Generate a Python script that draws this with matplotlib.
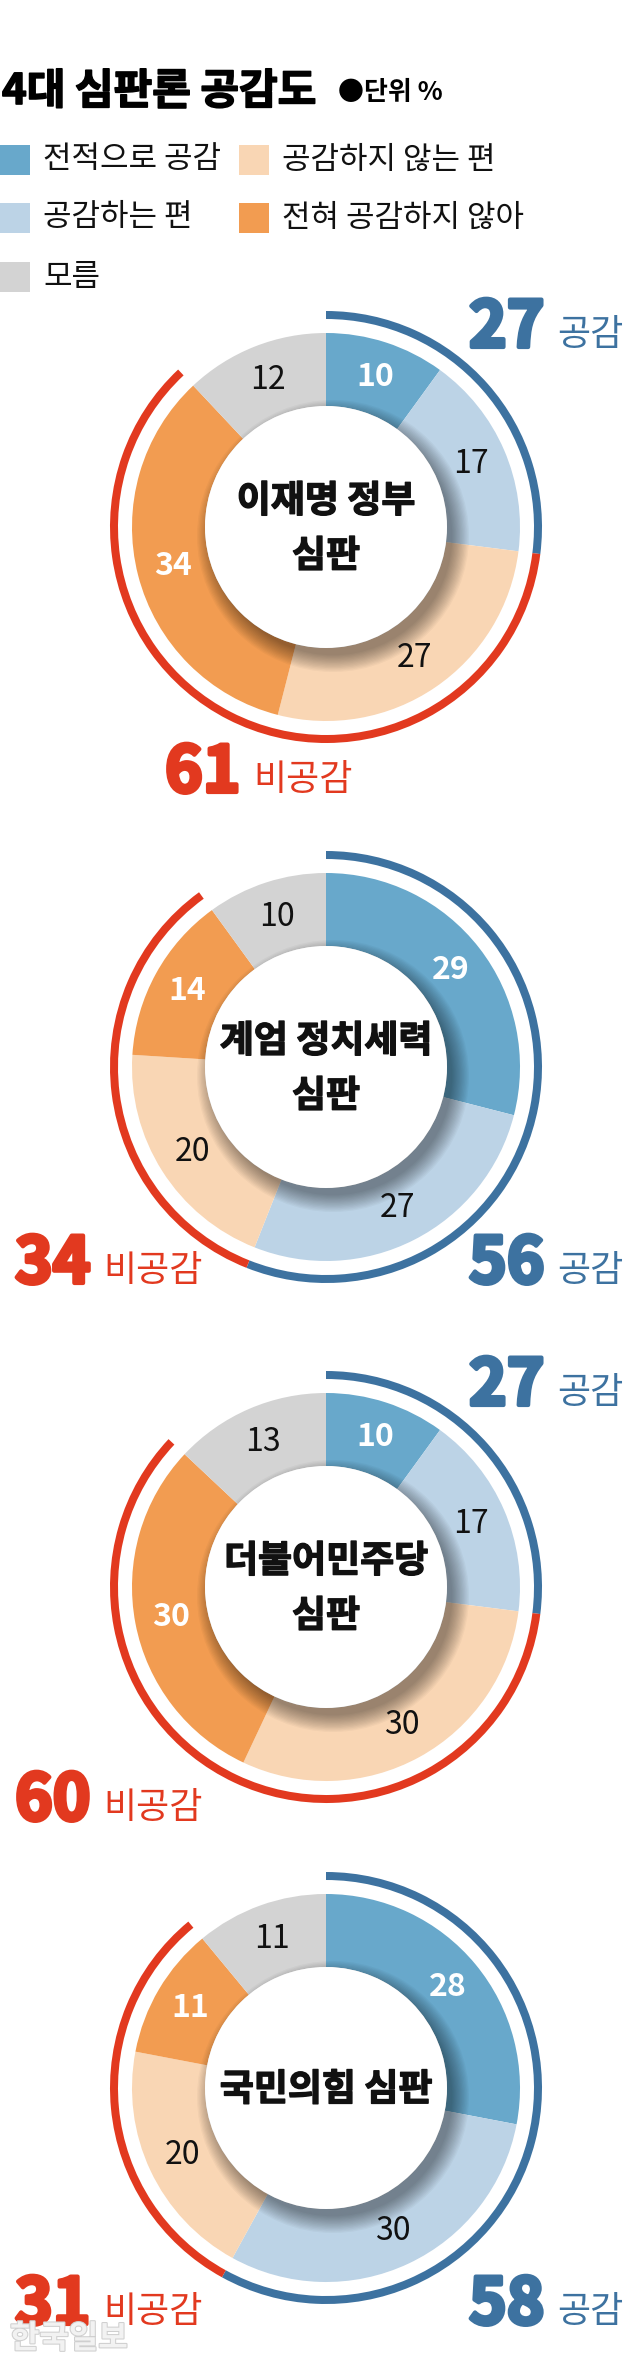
import numpy as np
import matplotlib.pyplot as plt
from matplotlib.patches import Wedge, Circle, Rectangle
import matplotlib.patheffects as pe

plt.rcParams['font.family'] = ['Noto Sans CJK KR', 'DejaVu Sans']

# categories in drawing order (clockwise from 12 o'clock)
categories = ['전적으로 공감', '공감하는 편', '공감하지 않는 편', '전혀 공감하지 않아', '모름']
seg_colors = ['#68a8cb', '#bcd3e6', '#f9d6b4', '#f29c51', '#d3d3d3']
num_colors = ['white', '#111111', '#111111', 'white', '#111111']

titles = ['이재명 정부\n심판', '계엄 정치세력\n심판', '더불어민주당\n심판', '국민의힘 심판']
lee_gov = [10, 17, 27, 34, 12]
martial_law = [29, 27, 20, 14, 10]
democratic = [10, 17, 30, 30, 13]
ppp = [28, 30, 20, 11, 11]
agree_total = [27, 56, 27, 58]
disagree_total = [61, 34, 60, 31]

AGREE = '#3d72a0'
DISAGREE = '#e2391f'

W, H = 623, 2364
fig = plt.figure(figsize=(W / 100, H / 100), dpi=100)
ax = fig.add_axes([0, 0, 1, 1])
ax.set_xlim(0, W)
ax.set_ylim(H, 0)
ax.axis('off')

def px(v):
    return v * 0.72

heavy = lambda w, c: [pe.withStroke(linewidth=w, foreground=c)]

# title
ax.text(2, 92, '4대 심판론 공감도', fontsize=px(42), fontweight='bold', va='center', ha='left',
        path_effects=heavy(1.2, 'black'))
ax.text(338, 92, '●단위 %', fontsize=px(26), fontweight='bold', va='center', ha='left')

# legend
leg_pos = [(0, 160), (0, 218), (239, 160), (239, 218), (0, 277)]
for (lx, ly), cat, c in zip(leg_pos, categories, seg_colors):
    ax.add_patch(Rectangle((lx, ly - 15), 30, 30, color=c, lw=0))
    ax.text(lx + 43, ly, cat, fontsize=px(31), va='center', ha='left', color='#111111')

cx = 326
centers = [527, 1067, 1587, 2088]
R_out, R_in = 194, 121
series = [lee_gov, martial_law, democratic, ppp]
# baseline offsets of the big numbers relative to the donut centre
agree_pos = [(468, -180), (468, 216), (468, -182), (468, 236)]
disagree_pos = [(164, 265), (14, 216), (14, 233), (14, 236)]


def ang(pct):
    # clockwise from top, y axis inverted
    return -90 + pct * 3.6


big_nums = []
for cy, vals, title, ag, dis, apos, dpos in zip(centers, series, titles, agree_total,
                                                 disagree_total, agree_pos, disagree_pos):
    cum = np.concatenate([[0], np.cumsum(vals)])
    for i, v in enumerate(vals):
        ax.add_patch(Wedge((cx, cy), R_out, ang(cum[i]), ang(cum[i + 1]),
                           width=R_out - R_in, color=seg_colors[i], lw=0))
    # soft shadow of the centre disc
    n = 14
    for k in range(n):
        r = R_in - 3 + 18 * (1 - k / n)
        ax.add_patch(Circle((cx + 7, cy + 9), r, color='black', alpha=0.03, lw=0))
    ax.add_patch(Circle((cx, cy), R_in, color='white', lw=0))

    # outer arcs
    ax.add_patch(Wedge((cx, cy), 216, ang(0), ang(ag), width=8, color=AGREE, lw=0))
    ax.add_patch(Wedge((cx, cy), 216, ang(ag), ang(ag + dis), width=8, color=DISAGREE, lw=0))

    # segment values
    for i, v in enumerate(vals):
        mid = np.deg2rad(ang((cum[i] + cum[i + 1]) / 2))
        ax.text(cx + 158 * np.cos(mid), cy + 158 * np.sin(mid), str(v),
                fontsize=px(32), color=num_colors[i],
                fontweight='bold' if num_colors[i] == 'white' else 'normal',
                ha='center', va='center')

    # centre title
    lines = title.split('\n')
    for j, line in enumerate(lines):
        ax.text(cx, cy + 2 + (j - (len(lines) - 1) / 2) * 55, line, fontsize=px(37),
                fontweight='bold', ha='center', va='center', color='#111111',
                path_effects=heavy(1.0, '#111111'))

    # totals
    for (x0, dy), total, col, word in [(apos, ag, AGREE, '공감'), (dpos, dis, DISAGREE, '비공감')]:
        t = ax.text(x0 + 1, cy + dy, str(total), fontsize=px(64), fontweight='black',
                    color=col, ha='left', va='baseline', path_effects=heavy(3, col))
        big_nums.append((t, cy + dy, col, word))

renderer = fig.canvas.get_renderer()
for t, yb, col, word in big_nums:
    bb = t.get_window_extent(renderer=renderer)
    x_right = ax.transData.inverted().transform((bb.x1, bb.y0))[0]
    ax.text(x_right + 13, yb - 2, word, fontsize=px(36), color=col, ha='left', va='baseline')

ax.text(10, 2339, '한국일보', fontsize=px(32), fontweight='bold', color='#f2f2f2',
        ha='left', va='center',
        path_effects=[pe.withStroke(linewidth=1.5, foreground='#cfcfcf')])

fig.savefig('out.png', dpi=100)
